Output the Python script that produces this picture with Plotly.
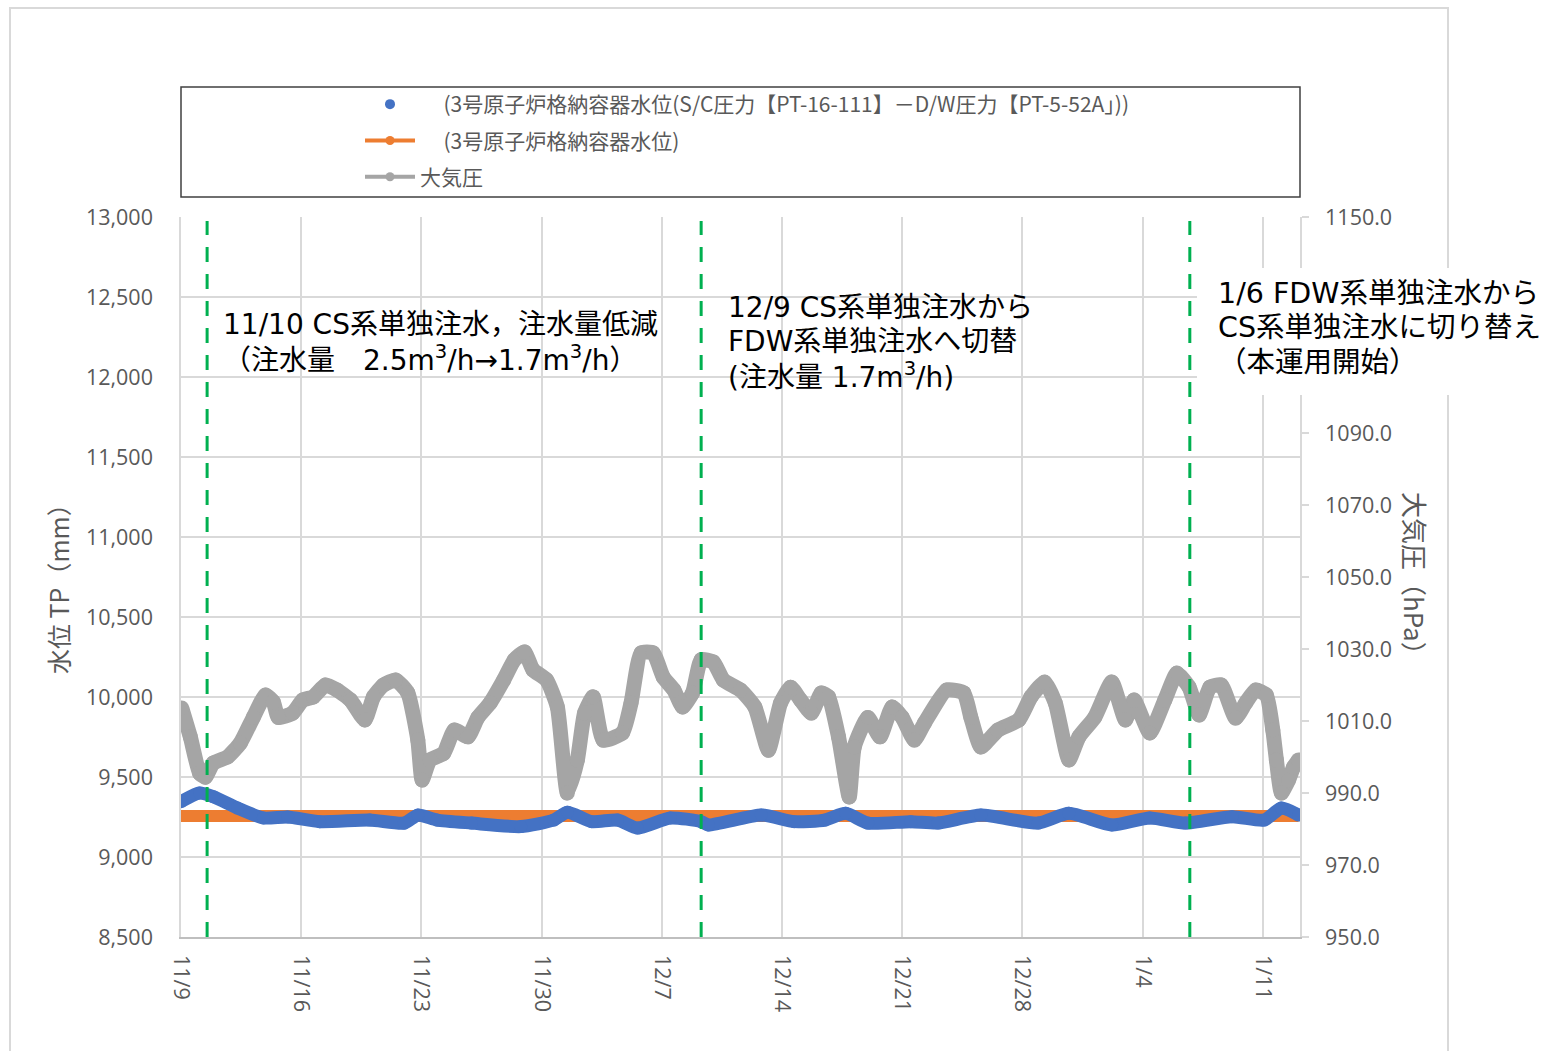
import plotly.graph_objects as go

# ---------------- data ----------------
gray_times = [
    "2020-11-09 01:00", "2020-11-09 13:00", "2020-11-10 02:00", "2020-11-10 10:00", "2020-11-10 21:00",
    "2020-11-11 17:00", "2020-11-12 11:00", "2020-11-13 05:00", "2020-11-13 22:00", "2020-11-14 09:00",
    "2020-11-14 16:00", "2020-11-15 12:00", "2020-11-16 02:00", "2020-11-16 17:00", "2020-11-17 10:00",
    "2020-11-18 02:00", "2020-11-18 21:00", "2020-11-19 17:00", "2020-11-20 05:00", "2020-11-20 19:00",
    "2020-11-21 12:00", "2020-11-22 05:00", "2020-11-22 19:00", "2020-11-23 01:00", "2020-11-23 12:00",
    "2020-11-24 07:00", "2020-11-24 22:00", "2020-11-25 17:00", "2020-11-26 07:00", "2020-11-27 00:00",
    "2020-11-27 19:00", "2020-11-28 10:00", "2020-11-29 00:00", "2020-11-29 12:00", "2020-11-30 07:00",
    "2020-11-30 22:00", "2020-12-01 12:00", "2020-12-02 02:00", "2020-12-02 12:00", "2020-12-03 00:00",
    "2020-12-03 14:00", "2020-12-04 17:00", "2020-12-05 05:00", "2020-12-05 19:00", "2020-12-06 12:00",
    "2020-12-07 02:00", "2020-12-07 17:00", "2020-12-08 05:00", "2020-12-08 19:00", "2020-12-09 07:00",
    "2020-12-10 00:00", "2020-12-10 14:00", "2020-12-11 14:00", "2020-12-12 10:00", "2020-12-13 05:00",
    "2020-12-13 22:00", "2020-12-14 12:00", "2020-12-15 02:00", "2020-12-15 17:00", "2020-12-16 07:00",
    "2020-12-16 17:00", "2020-12-17 07:00", "2020-12-17 22:00", "2020-12-18 05:00", "2020-12-19 00:00",
    "2020-12-19 17:00", "2020-12-20 10:00", "2020-12-21 00:00", "2020-12-21 17:00", "2020-12-22 07:00",
    "2020-12-23 14:00", "2020-12-24 14:00", "2020-12-25 00:00", "2020-12-25 14:00", "2020-12-26 14:00",
    "2020-12-27 19:00", "2020-12-28 12:00", "2020-12-29 07:00", "2020-12-29 22:00", "2020-12-30 17:00",
    "2020-12-31 07:00", "2021-01-01 05:00", "2021-01-02 05:00", "2021-01-03 00:00", "2021-01-03 12:00",
    "2021-01-04 10:00", "2021-01-05 07:00", "2021-01-06 00:00", "2021-01-06 17:00", "2021-01-07 07:00",
    "2021-01-07 22:00", "2021-01-08 14:00", "2021-01-09 10:00", "2021-01-10 00:00", "2021-01-10 14:00",
    "2021-01-11 05:00", "2021-01-11 14:00", "2021-01-11 19:00", "2021-01-12 02:00", "2021-01-12 12:00",
    "2021-01-12 19:00", "2021-01-13 02:00",
]
gray_hpa = [
    1013.6, 1005.6, 995.5, 994.4, 998.3,
    1000.0, 1003.9, 1011.0, 1017.2, 1015.3,
    1011.0, 1012.2, 1015.8, 1016.7, 1020.0,
    1018.6, 1015.8, 1010.3, 1016.7, 1020.0,
    1021.4, 1017.8, 1004.7, 993.6, 999.2,
    1001.0, 1007.5, 1005.6, 1011.0, 1015.0,
    1021.4, 1027.0, 1029.2, 1024.2, 1021.4,
    1013.9, 990.0, 999.2, 1012.2, 1016.7,
    1004.7, 1006.7, 1015.0, 1028.9, 1028.9,
    1022.2, 1018.6, 1013.9, 1017.8, 1027.0,
    1026.4, 1021.4, 1018.6, 1013.9, 1001.9,
    1015.0, 1019.4, 1015.8, 1012.2, 1017.8,
    1016.7, 1005.6, 988.9, 1002.8, 1011.0,
    1005.6, 1013.9, 1011.0, 1004.7, 1009.4,
    1018.6, 1017.8, 1011.0, 1002.8, 1007.5,
    1010.3, 1016.7, 1020.8, 1015.0, 999.2,
    1005.6, 1011.0, 1020.8, 1010.3, 1015.8,
    1006.7, 1015.8, 1023.3, 1019.4, 1011.7,
    1019.4, 1020.0, 1010.8, 1015.0, 1018.6,
    1017.2, 1007.5, 999.2, 990.0, 993.6,
    997.2, 999.2,
]

blue_times = [
    "2020-11-09 00:00", "2020-11-10 02:00", "2020-11-10 21:00", "2020-11-12 07:00", "2020-11-13 19:00",
    "2020-11-15 05:00", "2020-11-17 02:00", "2020-11-20 00:00", "2020-11-22 00:00", "2020-11-22 19:00",
    "2020-11-23 22:00", "2020-11-25 22:00", "2020-11-28 19:00", "2020-11-30 17:00", "2020-12-01 12:00",
    "2020-12-02 22:00", "2020-12-04 10:00", "2020-12-05 14:00", "2020-12-07 12:00", "2020-12-09 07:00",
    "2020-12-09 17:00", "2020-12-12 19:00", "2020-12-14 17:00", "2020-12-16 12:00", "2020-12-17 17:00",
    "2020-12-19 00:00", "2020-12-21 12:00", "2020-12-23 02:00", "2020-12-25 14:00", "2020-12-28 22:00",
    "2020-12-30 17:00", "2021-01-02 05:00", "2021-01-04 10:00", "2021-01-06 12:00", "2021-01-09 05:00",
    "2021-01-11 02:00", "2021-01-12 02:00", "2021-01-13 02:00",
]
blue_mm = [
    9346, 9400, 9377, 9306, 9244,
    9250, 9221, 9231, 9212, 9262,
    9231, 9212, 9190, 9231, 9280,
    9221, 9231, 9181, 9244, 9221,
    9200, 9262, 9221, 9231, 9273,
    9212, 9221, 9212, 9262, 9212,
    9273, 9200, 9244, 9212, 9252,
    9231, 9306, 9262,
]

orange_times = [
    "2020-11-09 00:00", "2020-11-16 00:00", "2020-11-23 00:00", "2020-11-30 00:00", "2020-12-07 00:00",
    "2020-12-14 00:00", "2020-12-21 00:00", "2020-12-28 00:00", "2021-01-04 00:00", "2021-01-11 00:00",
    "2021-01-13 02:00",
]
orange_mm = [9256, 9256, 9256, 9256, 9256, 9256, 9256, 9256, 9256, 9256, 9256]

event_times = ["2020-11-10 12:30", "2020-12-09 07:00", "2021-01-06 18:00"]

# right-axis labels that are visible (1110 and 1130 sit under the third note)
right_tickvals = [950, 970, 990, 1010, 1030, 1050, 1070, 1090, 1150]

series_names = [
    "(3号原子炉格納容器水位(S/C圧力【PT-16-111】－D/W圧力【PT-5-52A」))",
    "(3号原子炉格納容器水位)",
    "大気圧",
]
note_lines = [
    ["11/10 CS系単独注水，注水量低減",
     "（注水量　2.5m<sup>3</sup>/h→1.7m<sup>3</sup>/h）"],
    ["12/9 CS系単独注水から",
     "FDW系単独注水へ切替",
     "(注水量 1.7m<sup>3</sup>/h)"],
    ["1/6 FDW系単独注水から",
     "CS系単独注水に切り替え",
     "（本運用開始）"],
]
left_title = "水位 TP（mm）"
right_title = "大気圧（hPa）"

# ---------------- styling ----------------
BLUE = "#4472C4"
ORANGE = "#ED7D31"
GRAY = "#A5A5A5"
TXT = "#595959"
GRID = "#D9D9D9"
FONT = "Open Sans, Noto Sans CJK JP, sans-serif"
CJK = "Noto Sans CJK JP, sans-serif"
NOTE_FONT = "DejaVu Sans, Noto Sans CJK JP, sans-serif"
TICK_SIZE = 21.5

W, H = 1554, 1051
L, R, T, B = 181, 1300, 217, 937  # plot area in pixels


def px(xp):
    return (xp - L) / (R - L)


def py(yp):
    return (B - yp) / (B - T)


fig = go.Figure()

fig.add_trace(go.Scatter(
    x=orange_times, y=orange_mm, mode="lines",
    line=dict(color=ORANGE, width=12), showlegend=False, hoverinfo="skip"))
fig.add_trace(go.Scatter(
    x=blue_times, y=blue_mm, mode="lines+markers",
    line=dict(color=BLUE, width=13, shape="spline", smoothing=0.6),
    marker=dict(color=BLUE, size=13), showlegend=False))
fig.add_trace(go.Scatter(
    x=gray_times, y=gray_hpa, mode="lines+markers", yaxis="y2",
    line=dict(color=GRAY, width=15, shape="spline", smoothing=0.5),
    marker=dict(color=GRAY, size=15), showlegend=False))

# legend entries
nb = "\u00a0"
fig.add_trace(go.Scatter(
    x=[None], y=[None], mode="markers", name=nb * 5 + series_names[0],
    marker=dict(color=BLUE, size=10), legendgroup="a"))
fig.add_trace(go.Scatter(
    x=[None], y=[None], mode="lines+markers", name=nb * 5 + series_names[1],
    line=dict(color=ORANGE, width=4), marker=dict(color=ORANGE, size=9), legendgroup="b"))
fig.add_trace(go.Scatter(
    x=[None], y=[None], mode="lines+markers", name=series_names[2],
    line=dict(color=GRAY, width=4), marker=dict(color=GRAY, size=9), legendgroup="c"))

shapes = []
# outer frame
shapes.append(dict(type="rect", xref="paper", yref="paper",
                   x0=px(10), x1=px(1448), y0=py(1062), y1=py(8),
                   line=dict(color=GRID, width=2), layer="below"))
# legend box
shapes.append(dict(type="rect", xref="paper", yref="paper",
                   x0=px(181), x1=px(1300), y0=py(197), y1=py(87),
                   line=dict(color="#404040", width=1.5), layer="below"))
# event lines
for t in event_times:
    shapes.append(dict(type="line", xref="x", yref="paper", x0=t, x1=t,
                       y0=0, y1=py(221),
                       line=dict(color="#00B050", width=3, dash="15px,12px"),
                       layer="above"))
# white backing of the third note
shapes.append(dict(type="rect", xref="paper", yref="paper",
                   x0=px(1197), x1=px(1560), y0=py(395), y1=py(268),
                   fillcolor="#FFFFFF", line=dict(width=0), layer="above"))

annotations = []
note_pos = [(222, [324, 358]), (727, [307, 341, 375]), (1217, [293, 327, 362])]
note_sizes = [28, 28, 28.5]
for lines, (x0, ys), fs in zip(note_lines, note_pos, note_sizes):
    for txt, yy in zip(lines, ys):
        annotations.append(dict(
            text=txt, xref="paper", yref="paper", x=px(x0), y=py(yy),
            xanchor="left", yanchor="middle", align="left", showarrow=False,
            borderpad=0, font=dict(family=NOTE_FONT, size=fs, color="#000000")))

annotations += [
    dict(text=left_title, xref="paper", yref="paper", x=px(58), y=py(583),
         xanchor="center", yanchor="middle", textangle=-90, showarrow=False,
         font=dict(family=CJK, size=25, color=TXT)),
    dict(text=right_title, xref="paper", yref="paper", x=px(1416), y=py(580),
         xanchor="center", yanchor="middle", textangle=90, showarrow=False,
         font=dict(family=CJK, size=26, color=TXT)),
]

fig.update_layout(
    width=W, height=H, autosize=False,
    margin=dict(l=L, r=W - R, t=T, b=H - B, pad=0),
    paper_bgcolor="#FFFFFF", plot_bgcolor="#FFFFFF",
    font=dict(family=FONT, color=TXT),
    showlegend=True,
    legend=dict(x=px(360), y=py(84), xanchor="left", yanchor="top",
                bgcolor="rgba(0,0,0,0)", borderwidth=0,
                font=dict(family=CJK, size=21, color=TXT),
                tracegroupgap=6, itemwidth=50, traceorder="grouped"),
    xaxis=dict(type="date", range=["2020-11-09 00:00", "2021-01-13 04:00"],
               tick0="2020-11-09", dtick=7 * 86400000, tickformat="%-m/%-d",
               tickangle=90, showgrid=True, gridcolor=GRID, gridwidth=1.5,
               showline=True, linecolor="#BFBFBF", linewidth=1.5, ticks="",
               tickfont=dict(family=FONT, size=TICK_SIZE, color=TXT),
               ticklabelstandoff=12, zeroline=False),
    yaxis=dict(range=[8500, 13000], dtick=500, tick0=8500, tickformat=",",
               showgrid=True, gridcolor=GRID, gridwidth=1.5,
               showline=True, linecolor=GRID, linewidth=1.5, ticks="",
               tickfont=dict(family=FONT, size=TICK_SIZE, color=TXT),
               ticklabelstandoff=22, zeroline=False),
    yaxis2=dict(range=[950, 1150], tickmode="array", tickvals=right_tickvals,
                tickformat=".1f",
                overlaying="y", side="right", showgrid=False,
                showline=True, linecolor=GRID, linewidth=1.5,
                ticks="outside", ticklen=7, tickcolor=GRID, tickwidth=1.5,
                tickfont=dict(family=FONT, size=TICK_SIZE, color=TXT),
                ticklabelstandoff=12, zeroline=False),
    shapes=shapes,
    annotations=annotations,
)

fig.write_html("out.html", config={"displayModeBar": False},
               post_script="document.body.style.margin='0';")
